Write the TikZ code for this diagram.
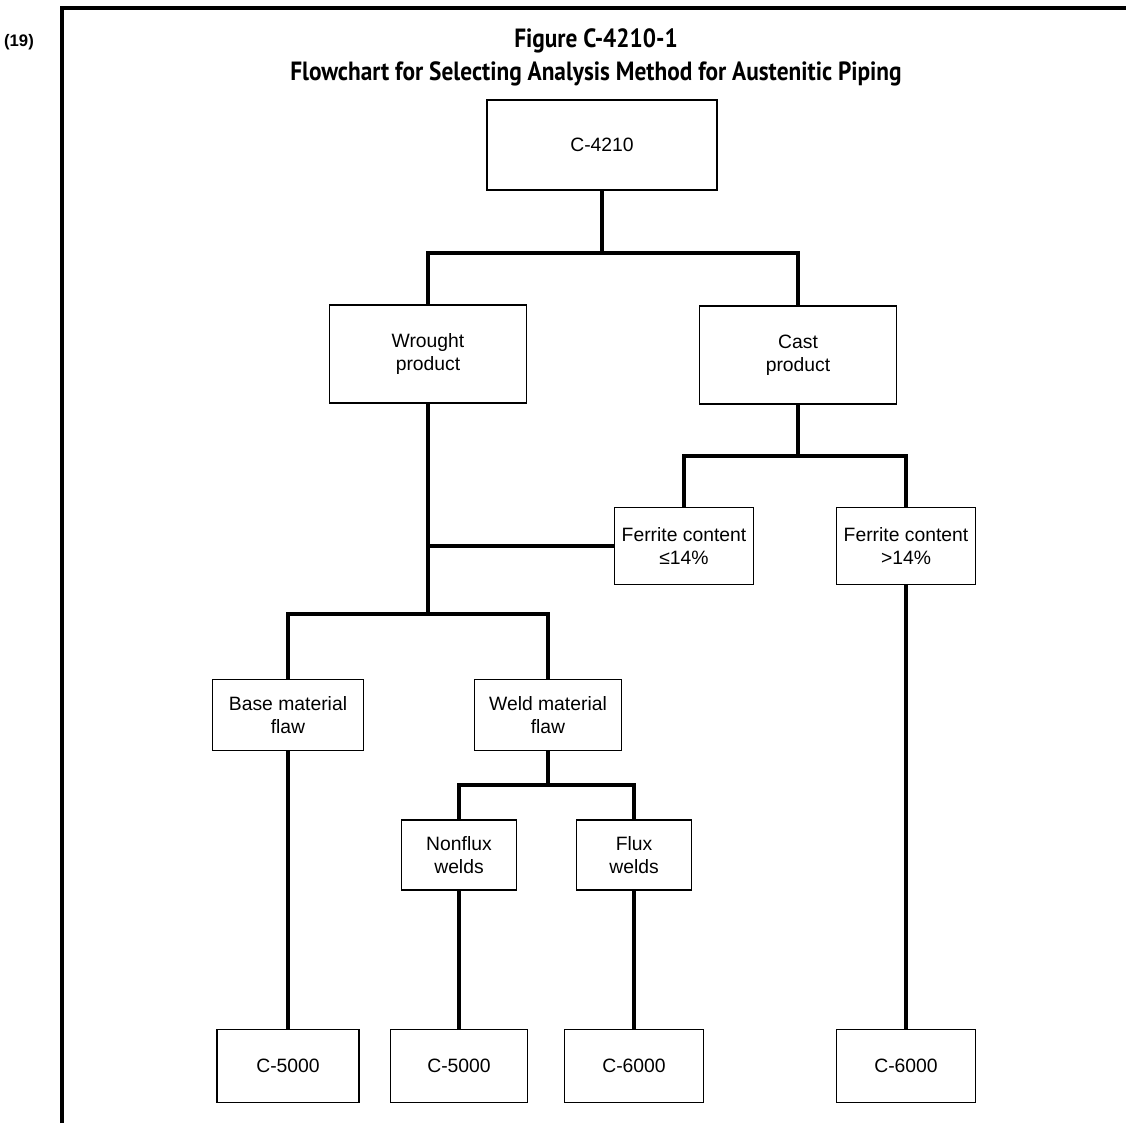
\documentclass[tikz,border=0pt]{standalone}
\usepackage{fontspec}
\setmainfont{Liberation Sans}
\newfontfamily\titlefont[FakeStretch=0.885]{PT Sans}
\usepackage{tikz}

\begin{document}
\begin{tikzpicture}[x=0.02cm,y=-0.02cm,
    box/.style={draw,line width=0.9pt,align=center,inner sep=1pt,font=\fontsize{11}{13.2}\selectfont},
    conn/.style={line width=2.8pt},
    frame/.style={line width=2.3pt}]
    \useasboundingbox (0,0) rectangle (1126,1123);
    \draw[frame] (62,1123) -- (62,8) -- (1126,8);
    \node[font=\bfseries\fontsize{9.5}{11}\selectfont] (num) at (19,42) {(19)};
    \node[font=\titlefont\bfseries\fontsize{15}{18.8}\selectfont,align=center] (title) at (596,57) {Figure C-4210-1\\Flowchart for Selecting Analysis Method for Austenitic Piping};
    \node[box,minimum width=4.6cm,minimum height=1.8cm] (c4210) at (602,145) {C-4210};
    \node[box,minimum width=3.94cm,minimum height=1.96cm] (wrought) at (428,354) {Wrought\\product};
    \node[box,minimum width=3.94cm,minimum height=1.96cm] (cast) at (798,355) {Cast\\product};
    \node[box,minimum width=2.78cm,minimum height=1.54cm] (fele) at (684,546) {Ferrite content\\≤14\%};
    \node[box,minimum width=2.78cm,minimum height=1.54cm] (fegt) at (906,546) {Ferrite content\\>14\%};
    \node[box,minimum width=3.02cm,minimum height=1.42cm] (base) at (288,715) {Base material\\flaw};
    \node[box,minimum width=2.94cm,minimum height=1.42cm] (weld) at (548,715) {Weld material\\flaw};
    \node[box,minimum width=2.3cm,minimum height=1.4cm] (nonflux) at (459,855) {Nonflux\\welds};
    \node[box,minimum width=2.3cm,minimum height=1.4cm] (flux) at (634,855) {Flux\\welds};
    \node[box,minimum width=2.84cm,minimum height=1.46cm] (res1) at (288,1066) {C-5000};
    \node[box,minimum width=2.74cm,minimum height=1.46cm] (res2) at (459,1066) {C-5000};
    \node[box,minimum width=2.78cm,minimum height=1.46cm] (res3) at (634,1066) {C-6000};
    \node[box,minimum width=2.78cm,minimum height=1.46cm] (res4) at (906,1066) {C-6000};
    % junctions
    \coordinate (j1) at (602,253);
    \coordinate (j2) at (798,456);
    \coordinate (j3) at (428,614);
    \coordinate (j4) at (428,546);
    \coordinate (j5) at (548,785);
    \draw[conn] (c4210) -- (j1);
    \draw[conn] (wrought.north) |- (j1) -| (cast.north);
    \draw[conn] (cast) -- (j2);
    \draw[conn] (fele.north) |- (j2) -| (fegt.north);
    \draw[conn] (wrought) -- (j3);
    \draw[conn] (j4) -- (fele.west);
    \draw[conn] (base.north) |- (j3) -| (weld.north);
    \draw[conn] (weld) -- (j5);
    \draw[conn] (nonflux.north) |- (j5) -| (flux.north);
    \draw[conn] (base) -- (res1);
    \draw[conn] (nonflux) -- (res2);
    \draw[conn] (flux) -- (res3);
    \draw[conn] (fegt) -- (res4);
\end{tikzpicture}
\end{document}
